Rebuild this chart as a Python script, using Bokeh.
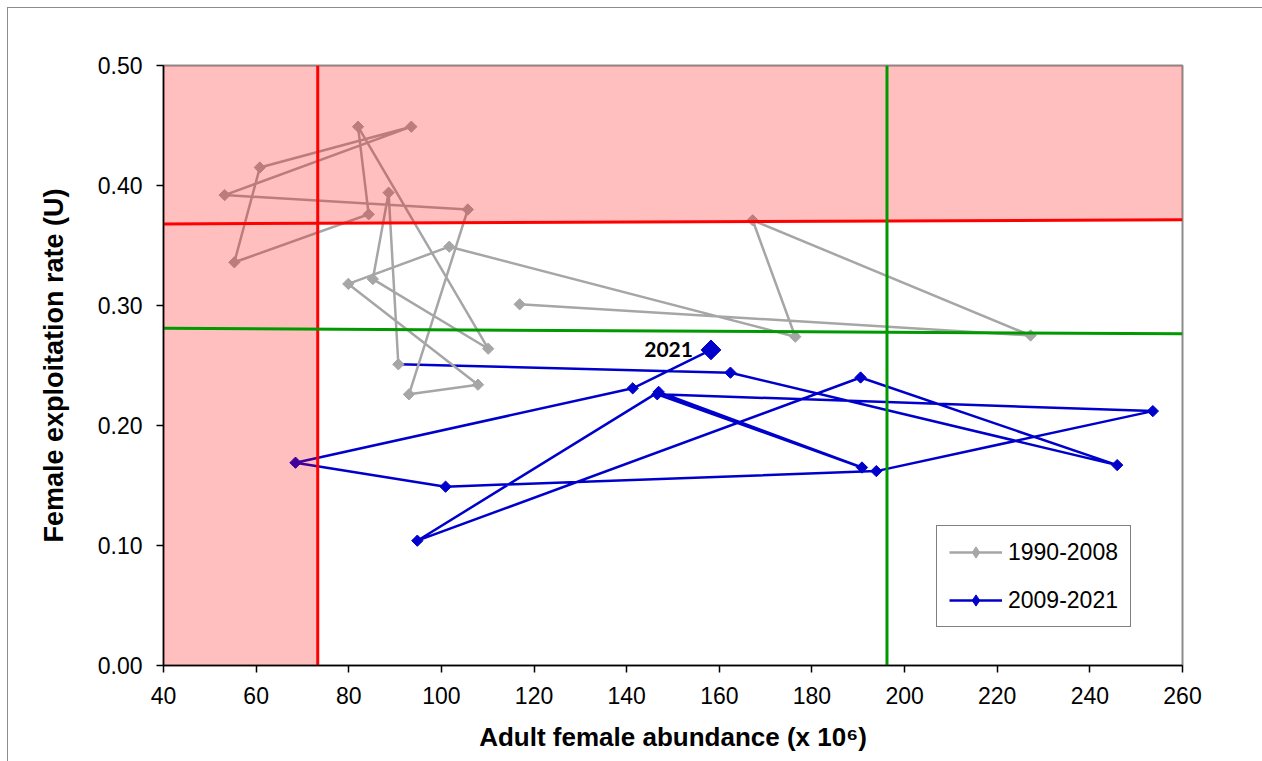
import numpy as np
from bokeh.plotting import figure
from bokeh.models import FixedTicker, Legend, LegendItem, Label, PrintfTickFormatter
from bokeh.embed import file_html
from bokeh.resources import INLINE

# ---------------- data ----------------
years_a = list(range(1990, 2009))
abund_a = [116.9, 227.2, 167.2, 176.4, 101.7, 79.9, 107.9, 93.0, 105.7, 53.2,
           93.5, 60.8, 55.3, 84.3, 82.0, 110.1, 85.2, 88.6, 90.7]
rate_a = [0.301, 0.275, 0.371, 0.274, 0.349, 0.318, 0.234, 0.226, 0.380, 0.392,
          0.449, 0.415, 0.336, 0.376, 0.449, 0.264, 0.322, 0.394, 0.251]

years_b = list(range(2009, 2022))
abund_b = [162.4, 245.9, 190.5, 94.8, 146.9, 190.8, 146.6, 253.6, 193.9, 100.9,
           68.5, 141.3, 158.2]
rate_b = [0.244, 0.167, 0.240, 0.104, 0.228, 0.165, 0.226, 0.212, 0.162, 0.149,
          0.169, 0.231, 0.263]

# reference points (limit / target)
limit_abund = 73.3
target_abund = 196.2
limit_rate = [0.368, 0.3714]    # at x = 40 and x = 260
target_rate = [0.281, 0.2764]   # at x = 40 and x = 260

x_range_vals = [40, 260]
y_range_vals = [0.0, 0.5]
x_ticks = [40, 60, 80, 100, 120, 140, 160, 180, 200, 220, 240, 260]
y_ticks = [0.0, 0.1, 0.2, 0.3, 0.4, 0.5]

# ---------------- figure ----------------
FONT = "Liberation Sans"
GRAY = "#a6a6a6"
BLUE = "#0000cc"

p = figure(frame_width=1019, frame_height=600,
           x_range=(x_range_vals[0], x_range_vals[1]),
           y_range=(y_range_vals[0], y_range_vals[1]),
           output_backend="svg", toolbar_location=None,
           min_border_left=155, min_border_right=80,
           min_border_top=57, min_border_bottom=96)
p.margin = (7, 0, 0, 7)
p.styles = {"border-left": "1px solid #8c8c8c", "border-top": "1px solid #8c8c8c"}

p.background_fill_color = "white"
p.border_fill_color = "white"
p.outline_line_color = "#8c8c8c"
p.outline_line_width = 2
p.xgrid.visible = False
p.ygrid.visible = False

# axes
for ax in (p.xaxis[0], p.yaxis[0]):
    ax.axis_line_color = "black"
    ax.axis_line_width = 1.5
    ax.major_tick_line_color = "black"
    ax.major_tick_line_width = 1.5
    ax.major_tick_out = 7
    ax.major_tick_in = 0
    ax.minor_tick_line_color = None
    ax.major_label_text_font = FONT
    ax.major_label_text_font_size = "23px"
    ax.major_label_text_color = "black"
    ax.major_label_standoff = 14
    ax.axis_label_text_font = FONT
    ax.axis_label_text_font_style = "bold"
    ax.axis_label_text_color = "black"

p.xaxis.ticker = FixedTicker(ticks=x_ticks)
p.yaxis.ticker = FixedTicker(ticks=y_ticks)
p.yaxis.formatter = PrintfTickFormatter(format="%.2f")
p.xaxis.axis_label = "Adult female abundance (x 10\u2076)"
p.yaxis.axis_label = "Female exploitation rate (U)"
p.xaxis.axis_label_text_font_size = "26px"
p.yaxis.axis_label_text_font_size = "27px"
p.xaxis.axis_label_standoff = 15
p.yaxis.axis_label_standoff = 26

# series 2009-2021 line (starts at the 2008 point)
line_b = p.line([abund_a[-1]] + abund_b, [rate_a[-1]] + rate_b,
                line_color=BLUE, line_width=2.5)
# series 1990-2008
line_a = p.line(abund_a, rate_a, line_color=GRAY, line_width=2.5)
p.scatter(abund_a, rate_a, marker="square", angle=np.pi / 4, size=8,
          fill_color=GRAY, line_color=GRAY)
p.scatter(abund_b[:-1], rate_b[:-1], marker="square", angle=np.pi / 4, size=8,
          fill_color=BLUE, line_color=BLUE)
p.scatter([abund_b[-1]], [rate_b[-1]], marker="square", angle=np.pi / 4, size=14,
          fill_color=BLUE, line_color=BLUE)

# legend-only marker glyphs (diamond shape, no visible point in the plot)
leg_a = p.scatter([np.nan], [np.nan], marker="diamond", size=15, fill_color=GRAY, line_color=GRAY)
leg_b = p.scatter([np.nan], [np.nan], marker="diamond", size=15, fill_color=BLUE, line_color=BLUE)

p.add_layout(Label(x=abund_b[-1], y=rate_b[-1], text=str(years_b[-1]),
                   x_offset=-18, text_align="right", text_baseline="middle",
                   text_font="Lato", text_font_style="bold", text_font_size="21px",
                   text_color="black"))

# danger zone overlay
x0, x1 = x_range_vals
slope = (limit_rate[1] - limit_rate[0]) / (x1 - x0)
y_at_limit = limit_rate[0] + slope * (limit_abund - x0)
zone_x = [x0, limit_abund, limit_abund, x1, x1, x0]
zone_y = [y_range_vals[0], y_range_vals[0], y_at_limit, limit_rate[1], y_range_vals[1], y_range_vals[1]]
p.patch(zone_x, zone_y, fill_color="red", fill_alpha=0.25, line_color=None)

# reference lines
p.line([x0, x1], limit_rate, line_color="#ff0000", line_width=3)
p.line([limit_abund, limit_abund], y_range_vals, line_color="#ff0000", line_width=3)
p.line([x0, x1], target_rate, line_color="#009900", line_width=3)
p.line([target_abund, target_abund], y_range_vals, line_color="#009900", line_width=3)

legend = Legend(items=[
    LegendItem(label=f"{years_a[0]}-{years_a[-1]}", renderers=[line_a, leg_a]),
    LegendItem(label=f"{years_b[0]}-{years_b[-1]}", renderers=[line_b, leg_b]),
], location=(773, 38))
legend.label_text_font = FONT
legend.label_text_font_size = "23px"
legend.label_text_color = "black"
legend.glyph_width = 53
legend.glyph_height = 28
legend.label_height = 28
legend.spacing = 20
legend.padding = 12
legend.margin = 0
legend.label_standoff = 6
legend.border_line_color = "black"
legend.border_line_width = 1
legend.background_fill_color = "white"
legend.background_fill_alpha = 1
p.add_layout(legend)

open("out.html", "w").write(file_html(p, INLINE))
